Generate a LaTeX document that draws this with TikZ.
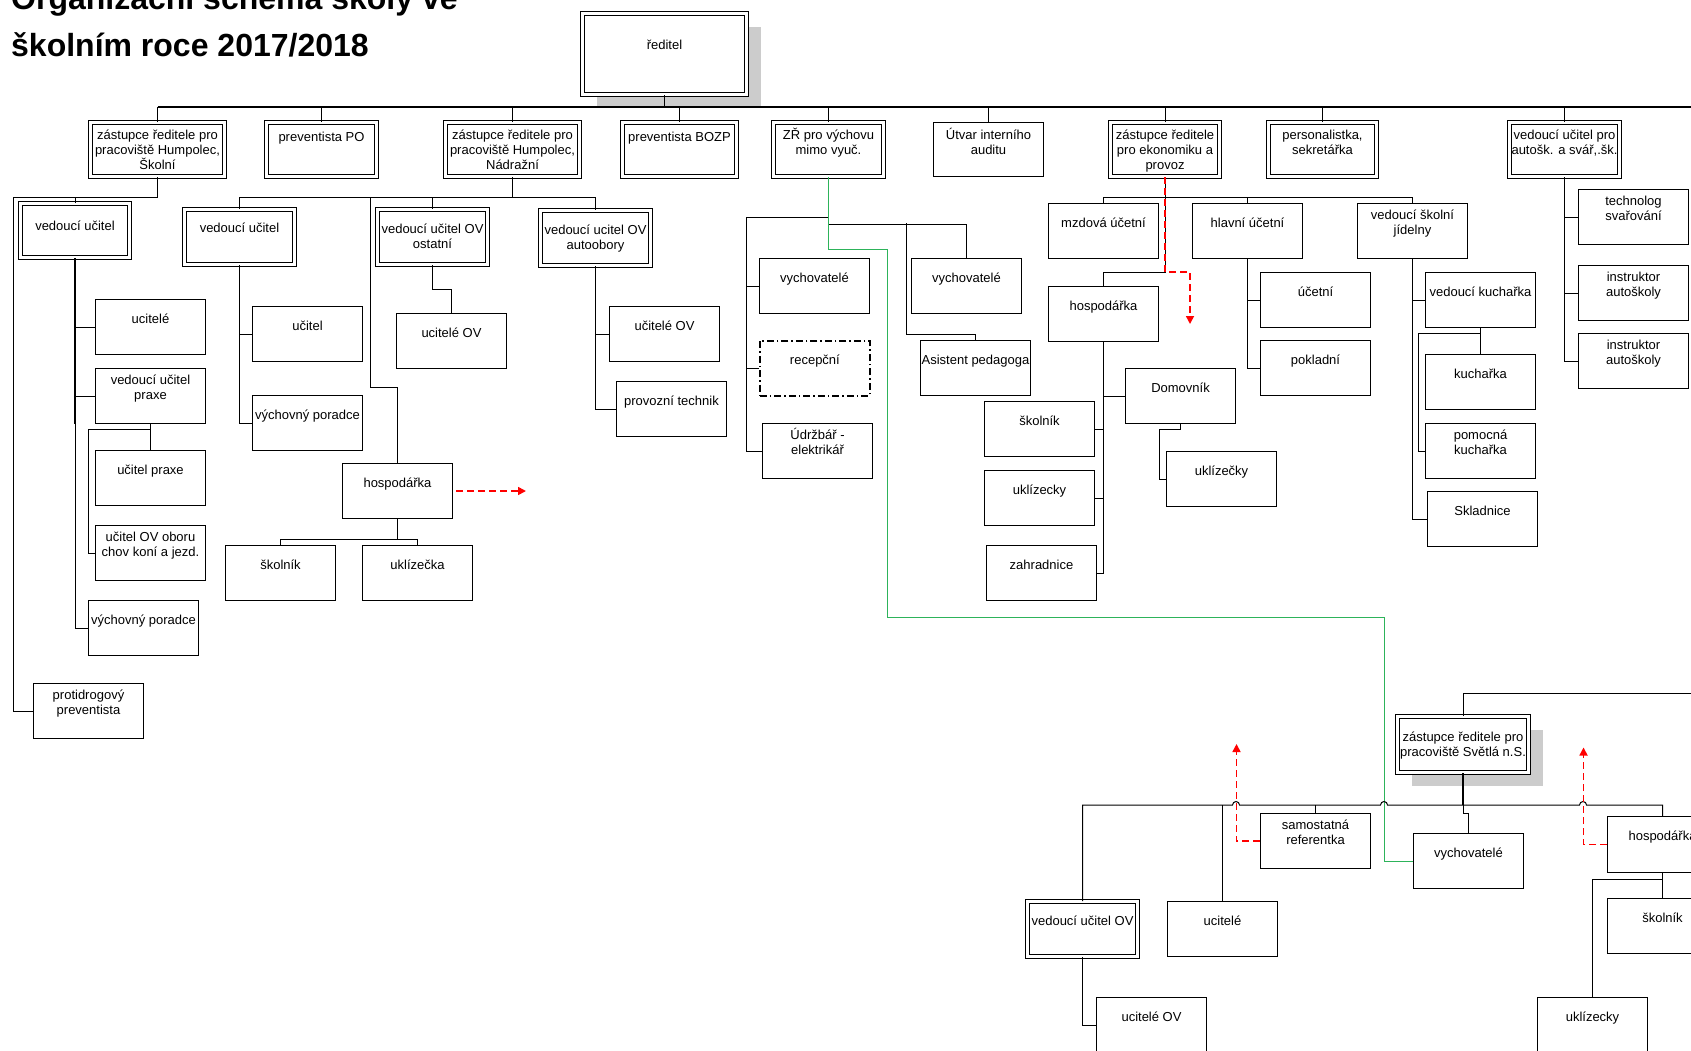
\documentclass[tikz,border=0pt]{standalone}
\usepackage{fontspec}
\setmainfont{Liberation Sans}
\usetikzlibrary{shadows,arrows.meta}

\definecolor{linegreen}{HTML}{2DB35A}
\definecolor{shadowgray}{HTML}{CCCCCC}

\tikzset{
  box/.style={draw, fill=white, line width=1pt, anchor=north west, align=center,
    inner xsep=1pt, inner ysep=0pt, minimum width=110pt,
    font=\fontsize{13}{15}\selectfont},
  dbox/.style={box, double, line width=1pt, double distance=2.2pt},
  one/.style={text height=24pt, text depth=31pt},
  two/.style={text height=31pt, text depth=24pt},
  twolow/.style={text height=39pt, text depth=16pt},
  headone/.style={text height=19pt, text depth=35pt},
  headtwo/.style={text height=32pt, text depth=22pt},
  headthree/.style={text height=47pt, text depth=7pt},
  grayshadow/.style={drop shadow={shadow xshift=14pt, shadow yshift=-13pt, fill=shadowgray, opacity=1}},
  title/.style={anchor=base west, inner sep=0pt, font=\bfseries\fontsize{32}{38}\selectfont},
  link/.style={line width=1pt},
  bus/.style={line width=1.8pt},
  reddash/.style={red, line width=1.6pt, dash pattern=on 7pt off 4pt, -{Triangle[length=8pt,width=8pt]}},
  greenlink/.style={linegreen, line width=1pt}
}

\begin{document}
\begin{tikzpicture}[x=1pt,y=-1pt]
    \useasboundingbox (0,0) rectangle (1691,1050);
    \clip (0,0) rectangle (1691,1050);
    % Title
    \node[title] (title1) at (11,9) {Organizační schéma školy ve};
    \node[title] (title2) at (11,56) {školním roce 2017/2018};

    % Head and first row
    \node[dbox, grayshadow, minimum width=164pt, text height=36pt, text depth=45pt] (reditel) at (582,13) {ředitel};
    \node[dbox, minimum width=134pt, headthree] (zsk) at (90,122) {zástupce ředitele pro\\pracoviště Humpolec,\\Školní};
    \node[dbox, headone] (ppo) at (266,122) {preventista PO};
    \node[dbox, minimum width=134pt, headthree] (znd) at (445,122) {zástupce ředitele pro\\pracoviště Humpolec,\\Nádražní};
    \node[dbox, minimum width=114pt, headone] (bozp) at (622,122) {preventista BOZP};
    \node[dbox, headtwo] (zrv) at (773,122) {ZŘ pro výchovu\\mimo vyuč.};
    \node[box, headtwo] (audit) at (933,122) {Útvar interního\\auditu};
    \node[dbox, minimum width=109pt, headthree] (zek) at (1110,122) {zástupce ředitele\\pro ekonomiku a\\provoz};
    \node[dbox, minimum width=108pt, headtwo] (pers) at (1268,122) {personalistka,\\sekretářka};
    \node[dbox, headtwo] (vuas) at (1509,122) {vedoucí učitel pro\\autošk. a svář,.šk.};

    % Humpolec, Skolni
    \node[dbox, minimum width=109pt, text height=27pt, text depth=27pt] (vul) at (20,203) {vedoucí učitel};
    \node[box, one] (ucl) at (95,299) {ucitelé};
    \node[box, two] (vupr) at (95,368) {vedoucí učitel\\praxe};
    \node[box, one] (upr) at (95,450) {učitel praxe};
    \node[box, two] (uovc) at (95,525) {učitel OV oboru\\chov koní a jezd.};
    \node[box, one] (vpl) at (88,600) {výchovný poradce};
    \node[box, two] (prot) at (33,683) {protidrogový\\preventista};

    % Humpolec, Nadrazni
    \node[dbox, text height=23pt, text depth=32pt] (vum) at (184,209) {vedoucí učitel};
    \node[box, one] (ucm) at (252,306) {učitel};
    \node[box, one] (vpm) at (252,395) {výchovný poradce};
    \node[dbox, twolow] (vuos) at (377,209) {vedoucí učitel OV\\ostatní};
    \node[box, one] (ucov) at (396,313) {ucitelé OV};
    \node[box, one] (hosm) at (342,463) {hospodářka};
    \node[box, one] (skm) at (225,545) {školník};
    \node[box, one] (ukm) at (362,545) {uklízečka};
    \node[dbox, twolow] (vuao) at (540,210) {vedoucí ucitel OV\\autoobory};
    \node[box, one] (uovr) at (609,306) {učitelé OV};
    \node[box, one] (ptech) at (616,381) {provozní technik};

    % vychova
    \node[box, one] (vy1) at (759,258) {vychovatelé};
    \node[box, one, line width=1.8pt, dash pattern=on 7pt off 3pt on 1.5pt off 3pt] (rec) at (759,340) {recepční};
    \node[box, two] (udr) at (762,423) {Údržbář -\\elektrikář};
    \node[box, one] (vy2) at (911,258) {vychovatelé};
    \node[box, one] (asp) at (920,340) {Asistent pedagoga};

    % ekonomika a provoz
    \node[box, one] (mzd) at (1048,203) {mzdová účetní};
    \node[box, one] (hla) at (1192,203) {hlavní účetní};
    \node[box, two] (vsj) at (1357,203) {vedoucí školní\\jídelny};
    \node[box, one] (hose) at (1048,286) {hospodářka};
    \node[box, one] (dom) at (1125,368) {Domovník};
    \node[box, one] (uky) at (1166,451) {uklízečky};
    \node[box, one] (ske) at (984,401) {školník};
    \node[box, one] (ukce) at (984,470) {uklízecky};
    \node[box, one] (zah) at (986,545) {zahradnice};
    \node[box, one] (uce) at (1260,272) {účetní};
    \node[box, one] (pok) at (1260,340) {pokladní};
    \node[box, one] (vku) at (1425,272) {vedoucí kuchařka};
    \node[box, one] (kuch) at (1425,354) {kuchařka};
    \node[box, two] (pkuch) at (1425,423) {pomocná\\kuchařka};
    \node[box, one] (skl) at (1427,491) {Skladnice};

    % autoskola
    \node[box, two] (tech) at (1578,189) {technolog\\svařování};
    \node[box, two] (ia1) at (1578,265) {instruktor\\autoškoly};
    \node[box, two] (ia2) at (1578,333) {instruktor\\autoškoly};

    % Svetla n.S.
    \node[dbox, grayshadow, minimum width=131pt, text height=40pt, text depth=16pt] (zsv) at (1397,716) {zástupce ředitele pro\\pracoviště Světlá n.S.};
    \node[box, two] (samr) at (1260,813) {samostatná\\referentka};
    \node[box, one] (vyb) at (1413,833) {vychovatelé};
    \node[box, one, text depth=32pt] (hosb) at (1607,816) {hospodářka};
    \node[dbox, one] (vuob) at (1027,901) {vedoucí učitel OV};
    \node[box, one] (ucb) at (1167,901) {ucitelé};
    \node[box, one] (ucovb) at (1096,997) {ucitelé OV};
    \node[box, one] (skb) at (1607,898) {školník};
    \node[box, one] (ukb) at (1537,997) {uklízecky};

    % Bends
    \coordinate (busR) at (1700,107);
    \coordinate (row2) at (13,197);
    \coordinate (pr1) at (88,429);
    \coordinate (hbend) at (370,387);
    \coordinate (lz) at (746,217);
    \coordinate (ab) at (906,334);
    \coordinate (g1) at (887,249);
    \coordinate (g2) at (1384,617);
    \coordinate (db) at (1159,429);
    \coordinate (kb) at (1418,333);
    \coordinate (svR) at (1700,693);
    \coordinate (sb) at (0,805);

    % Draw main bus
    \draw[bus] (reditel.south) -- (reditel.south |- busR);
    \draw[bus] (zsk.north |- busR) -- (busR);
    \draw[link] (zsk.north) -- (zsk.north |- busR);
    \draw[link] (ppo.north) -- (ppo.north |- busR);
    \draw[link] (znd.north) -- (znd.north |- busR);
    \draw[link] (bozp.north) -- (bozp.north |- busR);
    \draw[link] (zrv.north) -- (zrv.north |- busR);
    \draw[link] (audit.north) -- (audit.north |- busR);
    \draw[link] (zek.north) -- (zek.north |- busR);
    \draw[link] (pers.north) -- (pers.north |- busR);
    \draw[link] (vuas.north) -- (vuas.north |- busR);

    % Humpolec, Skolni
    \draw[link] (zsk.south) |- (row2) |- (prot.west);
    \draw[link] (vul.north) -- (vul.north |- row2);
    \draw[bus] (vul.south) -- (vul.south |- vupr.south);
    \draw[link] (vul.south) |- (vpl.west);
    \draw[link] (vul.south |- ucl.west) -- (ucl.west);
    \draw[link] (vul.south |- vupr.west) -- (vupr.west);
    \draw[link] (vupr.south) -- (upr.north);
    \draw[link] (vupr.south |- pr1) -- (pr1) |- (uovc.west);

    % Humpolec, Nadrazni
    \draw[bus] (znd.south) -- (znd.south |- row2);
    \draw[link] (vum.north) -- (vum.north |- row2) -- (vuao.north |- row2) -- (vuao.north);
    \draw[link] (vuos.north) -- (vuos.north |- row2);
    \draw[link] (hbend |- row2) -- (hbend) -| (hosm.north);
    \draw[link] (vum.south) |- (vpm.west);
    \draw[link] (vum.south |- ucm.west) -- (ucm.west);
    \draw[link] (vuos.south) -- ++(0,24) -| (ucov.north);
    \draw[link] (hosm.south) -- ++(0,20) -| (skm.north);
    \draw[link] (hosm.south) ++(0,20) -| (ukm.north);
    \draw[reddash] ([xshift=3pt]hosm.east) -- ++(70,0);
    \draw[link] (vuao.south) |- (ptech.west);
    \draw[link] (vuao.south |- uovr.west) -- (uovr.west);

    % vychova
    \draw[link] (zrv.south) -- ++(0,47) -| (vy2.north);
    \draw[link] (zrv.south |- lz) -- (lz) |- (udr.west);
    \draw[link] (lz |- vy1.west) -- (vy1.west);
    \draw[link] (lz |- rec.west) -- (rec.west);
    \draw[link] (ab |- vy2.north) ++(0,-35) -- (ab) -| (asp.north);
    \draw[greenlink] (zrv.south) |- (g1) |- (g2) |- (vyb.west);

    % ekonomika a provoz
    \draw[link] (zek.south) -- ++(0,95) -| (hose.north);
    \draw[link] (mzd.north) -- (mzd.north |- row2) -- (vsj.north |- row2) -- (vsj.north);
    \draw[link] (hla.north) -- (hla.north |- row2);
    \draw[reddash] (zek.south) -- ++(0,95) -- ++(25,0) -- ++(0,52);
    \draw[bus] (hose.south) -- (hose.south |- zah.east);
    \draw[link] (hose.south) |- (zah.east);
    \draw[link] (hose.south |- dom.west) -- (dom.west);
    \draw[link] (hose.south |- ske.east) -- (ske.east);
    \draw[link] (hose.south |- ukce.east) -- (ukce.east);
    \draw[link] (dom.south) |- (db) |- (uky.west);
    \draw[link] (hla.south) |- (pok.west);
    \draw[link] (hla.south |- uce.west) -- (uce.west);
    \draw[link] (vsj.south) |- (skl.west);
    \draw[link] (vsj.south |- vku.west) -- (vku.west);
    \draw[link] (vku.south) -- (kuch.north);
    \draw[link] (vku.south |- kb) -- (kb) |- (pkuch.west);

    % autoskola
    \draw[link] (vuas.south) |- (ia2.west);
    \draw[link] (vuas.south |- tech.west) -- (tech.west);
    \draw[link] (vuas.south |- ia1.west) -- (ia1.west);

    % Svetla n.S.
    \draw[link] (zsv.north) |- (svR);
    \draw[bus] (zsv.south) -- (zsv.south |- sb);
    \draw[link] (vuob.north) |- (1232.5,805) arc[start angle=180, end angle=0, radius=3.5pt]
        -- (1380.5,805) arc[start angle=180, end angle=0, radius=3.5pt]
        -- (1579.5,805) arc[start angle=180, end angle=0, radius=3.5pt] -| (hosb.north);
    \draw[link] (ucb.north) -- (ucb.north |- sb);
    \draw[link] (samr.north) -- (samr.north |- sb);
    \draw[link] (zsv.south |- sb) -- ++(0,8) -| (vyb.north);
    \draw[reddash] (samr.west) -- ++(-23.5,0) -- ++(0,-97);
    \draw[reddash] (hosb.west) -- ++(-23.5,0) -- ++(0,-97);
    \draw[link] (vuob.south) |- (ucovb.west);
    \draw[link] (hosb.south) -- (skb.north);
    \draw[link] (hosb.south) ++(0,6) -| (ukb.north);

\end{tikzpicture}
\end{document}
